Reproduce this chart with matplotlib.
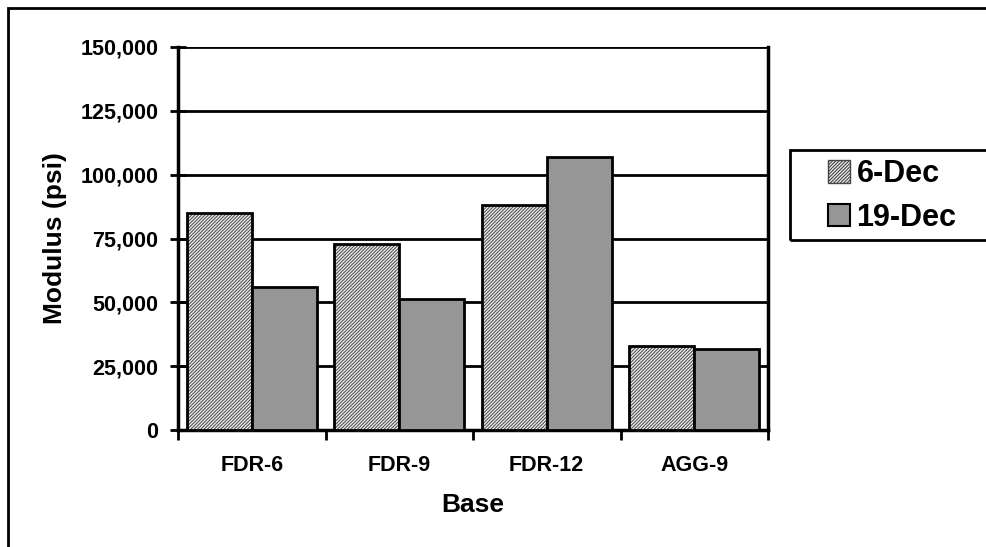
import numpy as np
import matplotlib.pyplot as plt
from matplotlib.patches import Rectangle, Patch
from matplotlib.ticker import FuncFormatter

plt.rcParams['font.family'] = ['Liberation Sans', 'DejaVu Sans']
plt.rcParams['font.weight'] = 'bold'
plt.rcParams['hatch.linewidth'] = 0.8

bases = ["FDR-6", "FDR-9", "FDR-12", "AGG-9"]
dec6 = [85000, 73000, 88000, 33000]
dec19 = [56000, 51500, 107000, 31700]
series_names = ["6-Dec", "19-Dec"]

fig = plt.figure(figsize=(9.86, 5.47), dpi=100)
ax = fig.add_axes([178 / 986, 1 - 430 / 547, (768 - 178) / 986, (430 - 47) / 547])

x = np.arange(len(bases))
w = 0.44
dense = "//////////"

# hatched series: fill with hatch in gray, then black outline on top
ax.bar(x - w / 2, dec6, w, color="#f0f0f0", hatch=dense, edgecolor="#555555",
       linewidth=0, zorder=3)
ax.bar(x - w / 2, dec6, w, fill=False, edgecolor="black", linewidth=2, zorder=4)
ax.bar(x + w / 2, dec19, w, color="#969696", edgecolor="black", linewidth=2, zorder=4)

ax.set_xlim(-0.5, len(bases) - 0.5)
ax.set_ylim(0, 150000)
ax.set_yticks(np.arange(0, 150001, 25000))
ax.yaxis.set_major_formatter(FuncFormatter(lambda v, p: f"{int(v):,}"))
ax.grid(axis="y", color="black", linewidth=2, zorder=0)
ax.set_axisbelow(True)

ax.set_xticks(x)
ax.set_xticklabels(bases)
ax.set_xticks(np.arange(-0.5, len(bases)), minor=True)
ax.tick_params(axis="x", which="major", length=0, pad=18, labelsize=15.5)
ax.tick_params(axis="x", which="minor", direction="out", length=7, width=2)
ax.tick_params(axis="y", direction="inout", length=12, width=2, pad=8, labelsize=15.5)

for s in ["left", "bottom", "right"]:
    ax.spines[s].set_linewidth(2.5)
ax.spines["top"].set_visible(False)

ax.set_ylabel("Modulus (psi)", fontsize=19, fontweight="bold", labelpad=10)
ax.set_xlabel("Base", fontsize=19, fontweight="bold", labelpad=12)

# legend box (runs off the right edge in the original)
fig.patches.append(Rectangle((790 / 986, 1 - 240 / 547), 0.3, 90 / 547,
                             transform=fig.transFigure, fill=False,
                             edgecolor="black", linewidth=2))
handles = [Patch(facecolor="#f0f0f0", hatch=dense, edgecolor="#444444"),
           Patch(facecolor="#969696", edgecolor="black", linewidth=1.5)]
fig.legend(handles, series_names, loc="center left",
           bbox_to_anchor=(800 / 986, 1 - 196 / 547), frameon=False,
           prop={"size": 22, "weight": "bold"}, handlelength=0.75,
           handleheight=0.75, handletextpad=0.2, labelspacing=0.45)

# outer chart border
fig.patches.append(Rectangle((8 / 986, -0.1), 1.2, 1.1 - 8 / 547,
                             transform=fig.transFigure, fill=False,
                             edgecolor="black", linewidth=2))

fig.savefig("out.png", dpi=100)
